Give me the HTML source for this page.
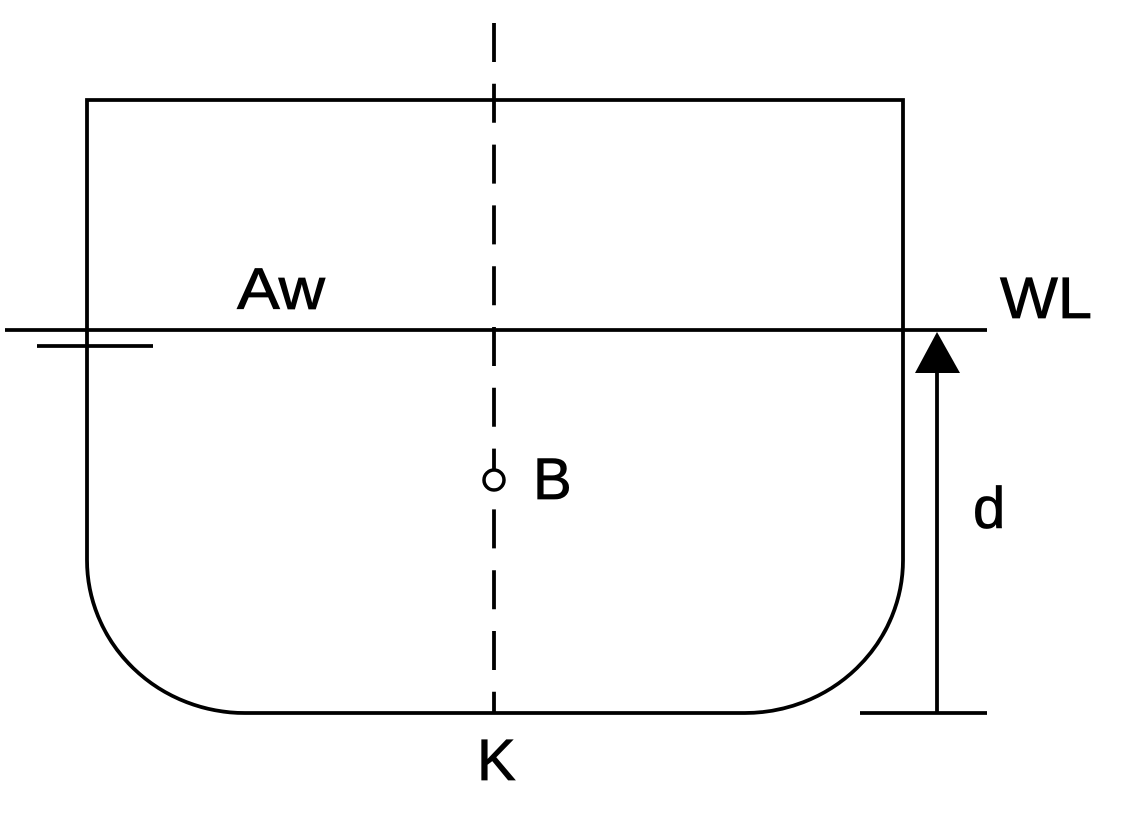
<!DOCTYPE html>
<html><head><style>html,body{margin:0;padding:0;background:#fff;}svg{display:block}</style></head>
<body>
<svg width="1134" height="816" viewBox="0 0 1134 816" xmlns="http://www.w3.org/2000/svg">
<g fill="none" stroke="#000" stroke-width="3.8">
<path d="M87 100 H903 V560 A158 153 0 0 1 745 713 H245 A158 153 0 0 1 87 560 Z"/>
<line x1="494" y1="23" x2="494" y2="713" stroke-dasharray="39 21.8"/>
<line x1="5" y1="330" x2="987" y2="330"/>
<line x1="37" y1="346" x2="153" y2="346"/>
<line x1="860" y1="713" x2="987" y2="713"/>
<line x1="937" y1="713" x2="937" y2="370"/>
</g>
<polygon points="937,332 915,373 960,373" fill="#000"/>
<circle cx="494" cy="480" r="10" fill="#fff" stroke="#000" stroke-width="3.5"/>
<g font-family="Liberation Sans, sans-serif" font-size="58" fill="#000" stroke="#000" stroke-width="0.8">
<text x="237" y="309" textLength="88" lengthAdjust="spacingAndGlyphs">Aw</text>
<text x="1000" y="318" textLength="92" lengthAdjust="spacingAndGlyphs">WL</text>
<text x="533" y="499">B</text>
<text x="973" y="528">d</text>
<text x="477" y="780">K</text>
</g>
</svg>
</body></html>
